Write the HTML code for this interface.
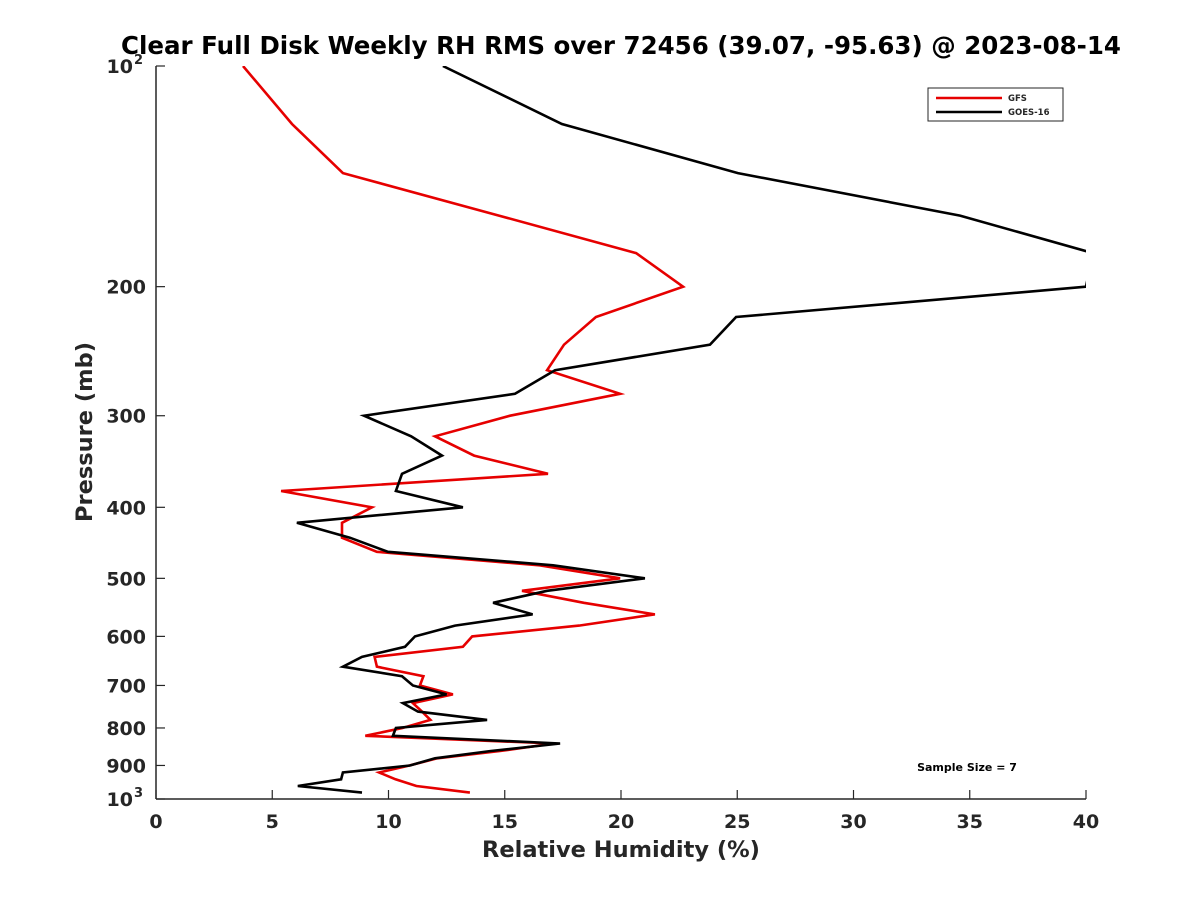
<!DOCTYPE html>
<html><head><meta charset="utf-8"><style>
body{margin:0;background:#fff;}
svg text{font-family:"DejaVu Sans","Liberation Sans",sans-serif;font-weight:bold;fill:#262626;}
</style></head><body>
<svg id="chart" width="1200" height="900" xmlns="http://www.w3.org/2000/svg">
<defs><clipPath id="plotclip"><rect x="156" y="66" width="930" height="733"/></clipPath></defs>
<text x="621" y="54" text-anchor="middle" font-size="24.5" style="fill:#000">Clear Full Disk Weekly RH RMS over 72456 (39.07, -95.63) @ 2023-08-14</text>
<g id="axes"></g>
<g id="series" clip-path="url(#plotclip)"></g>
<text x="621" y="857" text-anchor="middle" font-size="22.5">Relative Humidity (%)</text>
<text transform="translate(92,432) rotate(-90)" text-anchor="middle" font-size="22.5">Pressure (mb)</text>
<g>
<rect x="928" y="88" width="135" height="33" fill="#fff" stroke="#262626" stroke-width="1"/>
<line x1="936" y1="98" x2="1002" y2="98" stroke="#e60000" stroke-width="2.5"/>
<text x="1008" y="101" font-size="8.5">GFS</text>
<line x1="936" y1="112" x2="1002" y2="112" stroke="#000" stroke-width="2.5"/>
<text x="1008" y="115" font-size="8.5">GOES-16</text>
</g>
<text x="967" y="771" text-anchor="middle" font-size="11" style="fill:#000">Sample Size = 7</text>
</svg>
<script>
const levels=[100,120,140,160,180,200,220,240,260,280,300,320,340,360,380,400,420,440,460,480,500,520,540,560,580,600,620,640,660,680,700,720,740,760,780,800,820,840,860,880,900,920,940,960,980];
const gfsValues=[3.74,5.85,8.04,14.75,20.65,22.67,18.92,17.55,16.82,19.96,15.23,12.0,13.68,16.86,5.38,9.29,8.0,8.0,9.5,16.5,19.96,15.74,18.4,21.46,18.2,13.6,13.2,9.4,9.5,11.5,11.35,12.77,11.05,11.44,11.8,10.6,9.0,17.1,14.8,12.1,10.9,9.6,10.3,11.2,13.5];
const goesValues=[12.34,17.46,25.03,34.58,40.3,40.0,24.95,23.83,17.16,15.44,8.95,10.97,12.3,10.58,10.32,13.2,6.06,8.34,9.98,17.08,21.03,16.82,14.5,16.2,12.86,11.14,10.71,8.86,8.04,10.58,11.05,12.5,10.62,11.27,14.24,10.32,10.19,17.38,14.4,12.0,10.92,8.04,7.96,6.1,8.86];
const xTicks=[0,5,10,15,20,25,30,35,40];
const yTicks=[100,200,300,400,500,600,700,800,900,1000];
const yTickLabels=["10|2","200","300","400","500","600","700","800","900","10|3"];
const X0=156,X1=1086,Y0=66,Y1=799;
const xs=v=>X0+(v-0)/40*(X1-X0);
const ys=p=>Y0+Math.log10(p/100)*(Y1-Y0);
const NS="http://www.w3.org/2000/svg";
const axes=document.getElementById('axes');
function mk(tag,attrs,parent){const e=document.createElementNS(NS,tag);for(const k in attrs)e.setAttribute(k,attrs[k]);parent.appendChild(e);return e;}
let l=mk('line',{x1:X0,y1:Y0,x2:X0,y2:Y1,stroke:'#262626','stroke-width':1.5},axes);


l=mk('line',{x1:X0,y1:Y1,x2:X1,y2:Y1,stroke:'#262626','stroke-width':1.5},axes);


xTicks.forEach(v=>{
 const x=xs(v);
 const t=mk('line',{x1:x,y1:Y1,x2:x,y2:Y1-9,stroke:'#262626','stroke-width':1.2},axes);
 
 
 const tx=mk('text',{x:x,y:Y1+29,'text-anchor':'middle','font-size':19},axes);
 tx.textContent=v;
 
 
});
yTicks.forEach((p,i)=>{
 const y=ys(p);
 const t=mk('line',{x1:X0,y1:y,x2:X0+9,y2:y,stroke:'#262626','stroke-width':1.2},axes);
 
 
 const lab=yTickLabels[i];
 const tx=mk('text',{x:X0-10,y:y+7,'text-anchor':'end','font-size':19},axes);
 if(lab.indexOf('|')>=0){
   const [b,e]=lab.split('|');
   tx.setAttribute('x',X0-23);
   tx.textContent=b;
   const sup=mk('text',{x:X0-22,y:y-2,'font-size':13},axes);
   sup.textContent=e;
   
   
 } else tx.textContent=lab;
 
 
});
const series=document.getElementById('series');
function drawLine(vals,color,name){
 const pts=vals.map((v,i)=>xs(v).toFixed(1)+','+ys(levels[i]).toFixed(1)).join(' ');
 const pl=mk('polyline',{points:pts,fill:'none',stroke:color,'stroke-width':2.6,'stroke-linejoin':'miter'},series);
 
 
}
drawLine(gfsValues,'#e60000','gfs-line');
drawLine(goesValues,'#000000','goes16-line');
</script>
</body></html>
